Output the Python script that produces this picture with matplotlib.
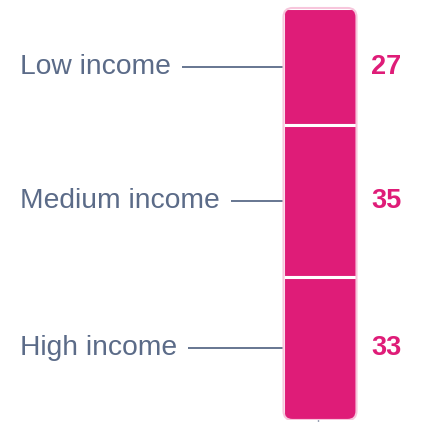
import numpy as np
import matplotlib.pyplot as plt
from matplotlib.patches import FancyBboxPatch

categories = ['Low income', 'Medium income', 'High income']
values = [27, 35, 33]

pink = '#DF1C78'
slate = '#5B6B88'

W, H = 423, 422
fig = plt.figure(figsize=(W / 100, H / 100), dpi=100)
# axes spans from top of image down to bar bottom (420px)
ax = fig.add_axes([0, 2 / H, 1, 1 - 2 / H])
ax.set_xlim(0, W)
total = sum(values)
px_per_unit = (420 - 8) / total
ax.set_ylim(total, -8 / px_per_unit)
ax.axis('off')

bar_x = 320
bar_w = 74
bottoms = np.concatenate([[0], np.cumsum(values)[:-1]])
bars = ax.bar([bar_x] * len(values), values, bottom=bottoms, width=bar_w,
              color=pink, edgecolor='white', linewidth=2.2)

# rounded outline of the whole bar, segments clipped to it
outline = FancyBboxPatch((bar_x - bar_w / 2 + 0.5, 0), bar_w - 1, total,
                         boxstyle='round,pad=0,rounding_size=9',
                         mutation_aspect=1 / px_per_unit,
                         facecolor='none', edgecolor='#F7C6DC', linewidth=1.5,
                         zorder=3)
ax.add_patch(outline)
for b in bars:
    b.set_clip_path(outline)

fig.canvas.draw()
r = fig.canvas.get_renderer()
inv = ax.transData.inverted()
for cat, val, b0 in zip(categories, values, bottoms):
    yc = b0 + val / 2
    t = ax.text(20, yc, cat, fontsize=20.3, color=slate, family='Liberation Sans',
                ha='left', va='center')
    bb = t.get_window_extent(renderer=r)
    x_end = inv.transform((bb.x1, 0))[0]
    ax.plot([x_end + 11, bar_x - bar_w / 2], [yc, yc], color=slate, lw=1.3,
            solid_capstyle='butt')
    ax.text(371, yc, str(val), fontsize=19.5, color=pink, fontweight='bold',
            family='Liberation Sans', ha='left', va='center')

# little tick below the bar
ax.plot([318, 318], [total, total + 3 / px_per_unit], color='#9AA3B5', lw=1,
        clip_on=False)

fig.savefig('out.png', dpi=100)
